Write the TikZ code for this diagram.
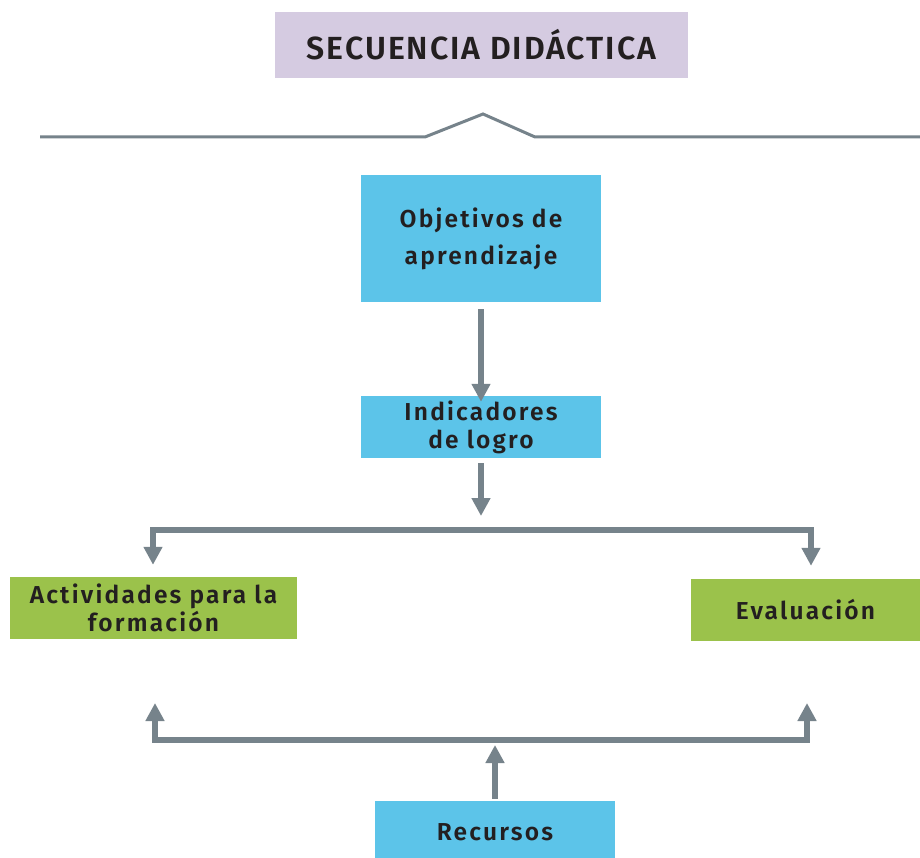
\documentclass[tikz,border=0pt]{standalone}
\usepackage{fontspec}
\setmainfont{Fira Sans}
\IfFontExistsTF{Fira Sans SemiBold}{%
  \newfontfamily\lblfont[LetterSpace=9,BoldFont={Fira Sans SemiBold}]{Fira Sans}%
  \newfontfamily\ttlfont[LetterSpace=6,BoldFont={Fira Sans SemiBold}]{Fira Sans}%
}{%
  \newfontfamily\lblfont[LetterSpace=9]{Fira Sans}%
  \newfontfamily\ttlfont[LetterSpace=6]{Fira Sans}%
}
\usetikzlibrary{arrows.meta}
\definecolor{lav}{HTML}{D5CBE1}
\definecolor{sky}{HTML}{5CC4E9}
\definecolor{leaf}{HTML}{9BC24B}
\definecolor{slate}{HTML}{76838B}
\definecolor{ink}{HTML}{231F20}
\begin{document}
\begin{tikzpicture}[x=1pt,y=-1pt,
  box/.style={inner sep=0pt, align=center, text=ink, font=\lblfont\bfseries\fontsize{24.5}{28}\selectfont},
  bluebox/.style={box, fill=sky},
  greenbox/.style={box, fill=leaf},
  bar/.style={draw=slate, line width=5.5pt},
  arr/.style={draw=slate, line width=5.5pt, -{Triangle[length=18pt,width=18pt]}}
]
\useasboundingbox (0,0) rectangle (920,858);

\node[box, fill=lav, minimum width=413pt, minimum height=66pt,
  font=\ttlfont\bfseries\fontsize{32}{36}\selectfont] (title) at (481.5,45) {SECUENCIA DIDÁCTICA};

\draw[draw=slate, line width=3pt] (40,137) -- (425,137) -- (483,114) -- (535,137) -- (920,137);

\node[bluebox, minimum width=240pt, minimum height=127pt,
  font=\lblfont\bfseries\fontsize{24.5}{37}\selectfont] (obj) at (481,238.5) {Objetivos de\\aprendizaje};
\node[bluebox, minimum width=240pt, minimum height=62pt] (ind) at (481,427) {Indicadores\\de logro};
\node[greenbox, minimum width=287pt, minimum height=62pt] (act) at (153.5,608) {Actividades para la\\formación};
\node[greenbox, minimum width=229pt, minimum height=62pt] (eva) at (805.5,610) {Evaluación};
\node[bluebox, minimum width=240pt, minimum height=63pt] (rec) at (495,832.5) {Recursos};

% top bracket
\coordinate (jL) at (153,530);
\coordinate (jR) at (811,530);
\coordinate (jM) at (481,516);
\draw[arr, shorten <=7pt] (obj.south) -- ([yshift=-6pt]ind.north);
\draw[arr, shorten <=5pt] (ind.south) -- (jM);
\draw[bar, line cap=rect] (jL) -- (jR);
\draw[arr, shorten >=12pt] (jL) -- (jL |- act.north);
\draw[arr, shorten >=13pt] (jR) -- (jR |- eva.north);

% bottom bracket
\coordinate (kL) at (155,740);
\coordinate (kR) at (807,740);
\coordinate (tL) at (155,703);
\coordinate (tR) at (807,703);
\coordinate (kM) at (495,745);
\draw[bar, line cap=rect] (kL) -- (kR);
\draw[arr] (kL) -- (tL);
\draw[arr] (kR) -- (tR);
\draw[arr, shorten <=1pt] ([yshift=1pt]rec.north) -- (kM);
\end{tikzpicture}
\end{document}
